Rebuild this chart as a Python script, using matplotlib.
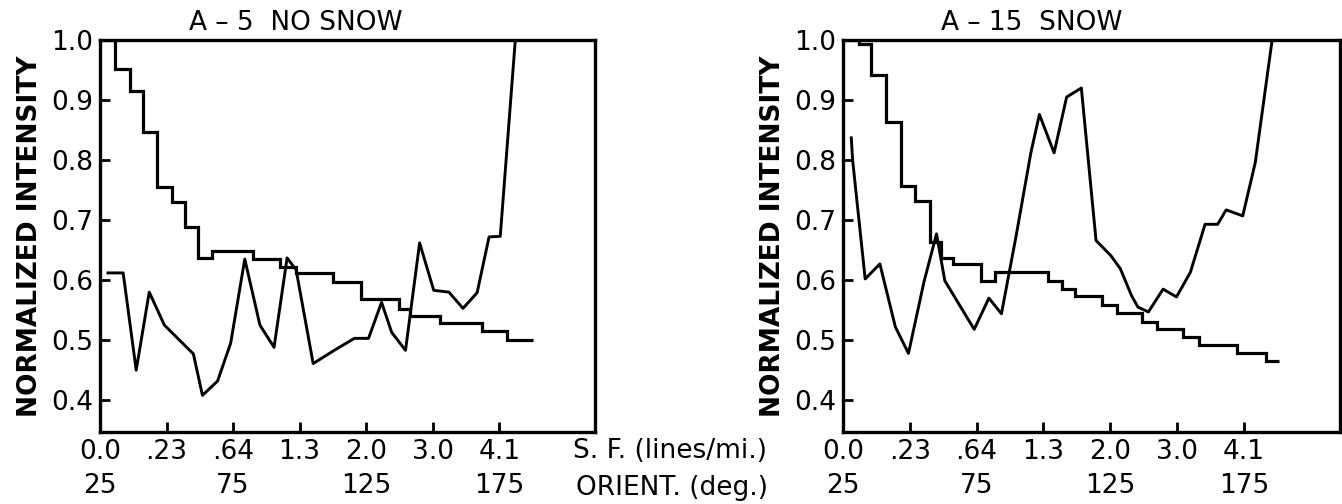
import matplotlib.pyplot as plt

plt.rcParams['font.family'] = ['DejaVu Sans']

# x axis: orientation in degrees, spatial frequency labels on the same ticks
orient_ticks = [25, 50, 75, 100, 125, 150, 175]
sf_labels = ['0.0', '.23', '.64', '1.3', '2.0', '3.0', '4.1']
orient_labels = ['25', '', '75', '', '125', '', '175']
y_ticks = [0.4, 0.5, 0.6, 0.7, 0.8, 0.9, 1.0]

# A-5 no snow
a5_step_edges = [25.8, 30.7, 36.3, 41.2, 46.5, 52.2, 57.1, 62.0, 66.9, 82.4,
                 92.6, 98.7, 112.6, 123.2, 137.2, 141.4, 152.7, 168.6, 178.0, 187.8]
a5_step_vals = [1.0, 0.952, 0.915, 0.847, 0.755, 0.73, 0.688, 0.637, 0.648, 0.635,
                0.622, 0.612, 0.597, 0.568, 0.552, 0.54, 0.528, 0.515, 0.50]
a5_deg = [28.0, 33.7, 38.6, 43.5, 49.2, 60.1, 63.5, 69.2, 74.1, 79.4, 85.1, 90.4,
          95.3, 98.7, 105.1, 113.0, 120.6, 125.9, 130.8, 134.6, 139.8, 145.1,
          150.4, 156.1, 161.4, 166.7, 171.2, 175.4, 181.0]
a5_int = [0.612, 0.612, 0.45, 0.58, 0.525, 0.477, 0.408, 0.432, 0.495, 0.635, 0.525, 0.488,
          0.637, 0.617, 0.461, 0.483, 0.503, 0.503, 0.563, 0.513, 0.483, 0.662,
          0.583, 0.58, 0.553, 0.579, 0.672, 0.673, 0.997]

# A-15 snow
a15_step_edges = [25.4, 30.9, 35.6, 41.1, 46.6, 52.1, 57.6, 61.6, 66.3, 76.5, 82.0,
                  101.6, 106.8, 111.8, 122.0, 127.5, 137.0, 142.4, 152.2, 158.1,
                  172.3, 183.2, 188.0]
a15_step_vals = [1.0, 0.993, 0.942, 0.863, 0.757, 0.731, 0.663, 0.637, 0.627, 0.598, 0.614,
                 0.598, 0.585, 0.573, 0.559, 0.546, 0.531, 0.518, 0.505, 0.492,
                 0.479, 0.465]
a15_deg = [28.1, 28.6, 33.3, 38.8, 44.6, 49.5, 55.3, 60.0, 63.1, 74.1, 79.6, 84.3,
           89.8, 95.3, 98.5, 104.0, 108.7, 114.2, 119.7, 125.2, 128.8, 133.0, 135.4,
           139.3, 144.8, 149.8, 155.0, 160.5, 165.2, 168.4, 174.6, 179.3, 185.6]
a15_int = [0.837, 0.80, 0.602, 0.627, 0.522, 0.478, 0.597, 0.677, 0.599, 0.518, 0.57, 0.544,
           0.674, 0.812, 0.876, 0.812, 0.905, 0.92, 0.666, 0.641, 0.619, 0.574, 0.555,
           0.547, 0.585, 0.572, 0.613, 0.693, 0.693, 0.717, 0.707, 0.796, 1.0]

fig = plt.figure(figsize=(13.42, 5.04), dpi=100)
ax1 = fig.add_axes([100 / 1342, 72 / 504, 495 / 1342, 392 / 504])
ax2 = fig.add_axes([843 / 1342, 72 / 504, 497 / 1342, 392 / 504])

panels = [
    (ax1, a5_step_edges, a5_step_vals, a5_deg, a5_int, "A – 5  NO SNOW", 0.395),
    (ax2, a15_step_edges, a15_step_vals, a15_deg, a15_int, "A – 15  SNOW", 0.38),
]

for ax, edges, vals, deg, inten, title, tx in panels:
    ax.stairs(vals, edges, baseline=None, color='black', lw=2.3)
    ax.plot(deg, inten, color='black', lw=2.1)
    ax.set_xlim(25, 211)
    ax.set_ylim(0.347, 1.0)
    ax.set_yticks(y_ticks)
    ax.set_yticklabels([f"{v:.1f}" for v in y_ticks])
    ax.set_xticks(orient_ticks)
    ax.set_xticklabels([s + "\n" + o for s, o in zip(sf_labels, orient_labels)])
    for lab in ax.get_xticklabels():
        lab.set_linespacing(1.42)
    ax.tick_params(direction='in', length=7, width=2, labelsize=19, pad=5)
    for sp in ax.spines.values():
        sp.set_linewidth(2.4)
    ax.set_ylabel("NORMALIZED INTENSITY", fontsize=19, fontweight='bold', labelpad=6)
    ax.text(tx, 1.01, title, transform=ax.transAxes, ha='center', va='bottom', fontsize=19)

fig.text(670 / 1342, 1 - 451 / 504, "S. F. (lines/mi.)", ha='center', va='center', fontsize=19)
fig.text(672 / 1342, 1 - 488 / 504, "ORIENT. (deg.)", ha='center', va='center', fontsize=19)

fig.savefig("out.png", dpi=100)
